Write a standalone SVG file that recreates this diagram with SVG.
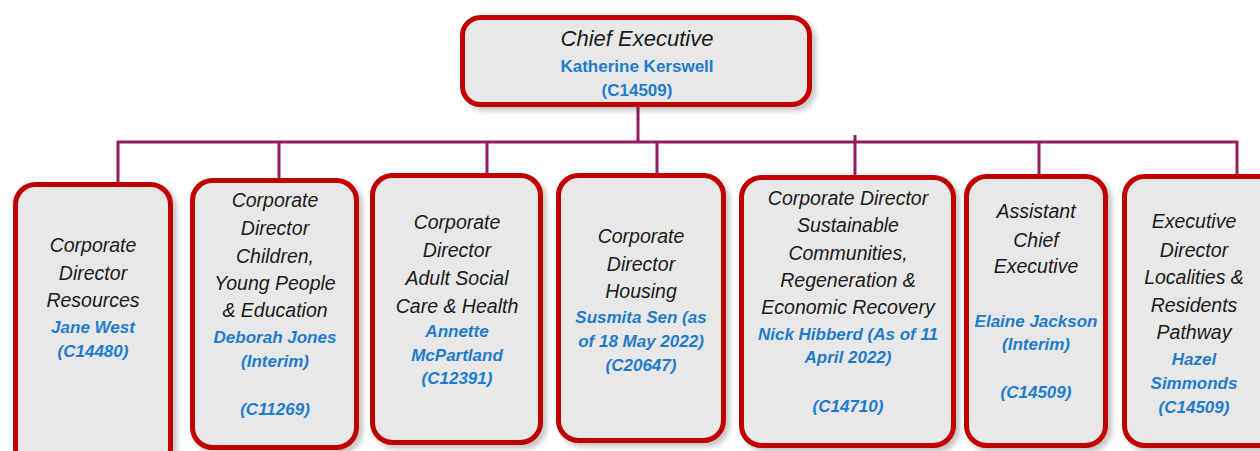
<svg xmlns="http://www.w3.org/2000/svg" width="1260" height="451" viewBox="0 0 1260 451">
  <style>
    .box { fill: #e8e8e8; stroke: #c00000; stroke-width: 5; filter: url(#shadow); }
    .role { font-family: "Liberation Sans", Arial, sans-serif; font-style: italic; font-size: 19.5px; fill: #1a1a1a; text-anchor: middle; }
    .name { font-family: "Liberation Sans", Arial, sans-serif; font-style: italic; font-weight: bold; font-size: 17px; fill: #1f7ccc; text-anchor: middle; }
    .upright { font-style: normal; }
    .link { fill: none; stroke: #951c5c; stroke-width: 3; }
  </style>
  <defs>
    <filter id="shadow" x="-10%" y="-10%" width="130%" height="130%">
      <feDropShadow dx="4" dy="4" stdDeviation="2.5" flood-color="#000" flood-opacity="0.22"/>
    </filter>
  </defs>
  <rect width="1260" height="451" fill="#ffffff"/>

  <!-- reporting lines -->
  <g id="connectors">
    <path class="link" d="M638 107 V143"/>
    <path class="link" d="M118 182 V142 H1237 V174"/>
    <path class="link" d="M279 142 V178"/>
    <path class="link" d="M487 142 V174"/>
    <path class="link" d="M657 142 V174"/>
    <path class="link" d="M855 135 V183"/>
    <path class="link" d="M1039 142 V174"/>
  </g>

  <g id="chief-executive">
    <rect class="box" x="462.5" y="17.5" width="347" height="87" rx="18"/>
    <text class="role" x="637" y="46" style="font-size:22px">Chief Executive</text>
    <text class="name upright" x="637" y="72">Katherine Kerswell</text>
    <text class="name upright" x="637" y="96">(C14509)</text>
  </g>

  <g id="resources">
    <rect class="box" x="15.5" y="184.5" width="155" height="285" rx="20"/>
    <text class="role" x="93" y="252">Corporate</text>
    <text class="role" x="93" y="280">Director</text>
    <text class="role" x="93" y="307">Resources</text>
    <text class="name" x="93" y="333">Jane West</text>
    <text class="name" x="93" y="357">(C14480)</text>
  </g>

  <g id="children">
    <rect class="box" x="192.5" y="180.5" width="164" height="267" rx="20"/>
    <text class="role" x="275" y="207">Corporate</text>
    <text class="role" x="275" y="235">Director</text>
    <text class="role" x="275" y="263">Children,</text>
    <text class="role" x="275" y="290">Young People</text>
    <text class="role" x="275" y="317">&amp; Education</text>
    <text class="name" x="275" y="343">Deborah Jones</text>
    <text class="name" x="275" y="367">(Interim)</text>
    <text class="name" x="275" y="415">(C11269)</text>
  </g>

  <g id="adult-social-care">
    <rect class="box" x="372.5" y="175.5" width="168" height="267" rx="20"/>
    <text class="role" x="457" y="229">Corporate</text>
    <text class="role" x="457" y="257">Director</text>
    <text class="role" x="457" y="285">Adult Social</text>
    <text class="role" x="457" y="313">Care &amp; Health</text>
    <text class="name" x="457" y="337">Annette</text>
    <text class="name" x="457" y="361">McPartland</text>
    <text class="name" x="457" y="384">(C12391)</text>
  </g>

  <g id="housing">
    <rect class="box" x="558.5" y="175.5" width="165" height="265" rx="20"/>
    <text class="role" x="641" y="243">Corporate</text>
    <text class="role" x="641" y="271">Director</text>
    <text class="role" x="641" y="298">Housing</text>
    <text class="name" x="641" y="323">Susmita Sen (as</text>
    <text class="name" x="641" y="347">of 18 May 2022)</text>
    <text class="name" x="641" y="371">(C20647)</text>
  </g>

  <g id="sustainable-communities">
    <rect class="box" x="741.5" y="177.5" width="212" height="268" rx="20"/>
    <text class="role" x="848" y="205">Corporate Director</text>
    <text class="role" x="848" y="232">Sustainable</text>
    <text class="role" x="848" y="260">Communities,</text>
    <text class="role" x="848" y="287">Regeneration &amp;</text>
    <text class="role" x="848" y="314">Economic Recovery</text>
    <text class="name" x="848" y="340">Nick Hibberd (As of 11</text>
    <text class="name" x="848" y="363">April 2022)</text>
    <text class="name" x="848" y="412">(C14710)</text>
  </g>

  <g id="assistant-chief-executive">
    <rect class="box" x="966.5" y="176.5" width="139" height="269" rx="20"/>
    <text class="role" x="1036" y="218">Assistant</text>
    <text class="role" x="1036" y="247">Chief</text>
    <text class="role" x="1036" y="273">Executive</text>
    <text class="name" x="1036" y="327">Elaine Jackson</text>
    <text class="name" x="1036" y="350">(Interim)</text>
    <text class="name" x="1036" y="398">(C14509)</text>
  </g>

  <g id="localities">
    <rect class="box" x="1124.5" y="176.5" width="165" height="269" rx="20"/>
    <text class="role" x="1194" y="228">Executive</text>
    <text class="role" x="1194" y="257">Director</text>
    <text class="role" x="1194" y="284">Localities &amp;</text>
    <text class="role" x="1194" y="312">Residents</text>
    <text class="role" x="1194" y="339">Pathway</text>
    <text class="name" x="1194" y="365">Hazel</text>
    <text class="name" x="1194" y="389">Simmonds</text>
    <text class="name" x="1194" y="413">(C14509)</text>
  </g>
</svg>
